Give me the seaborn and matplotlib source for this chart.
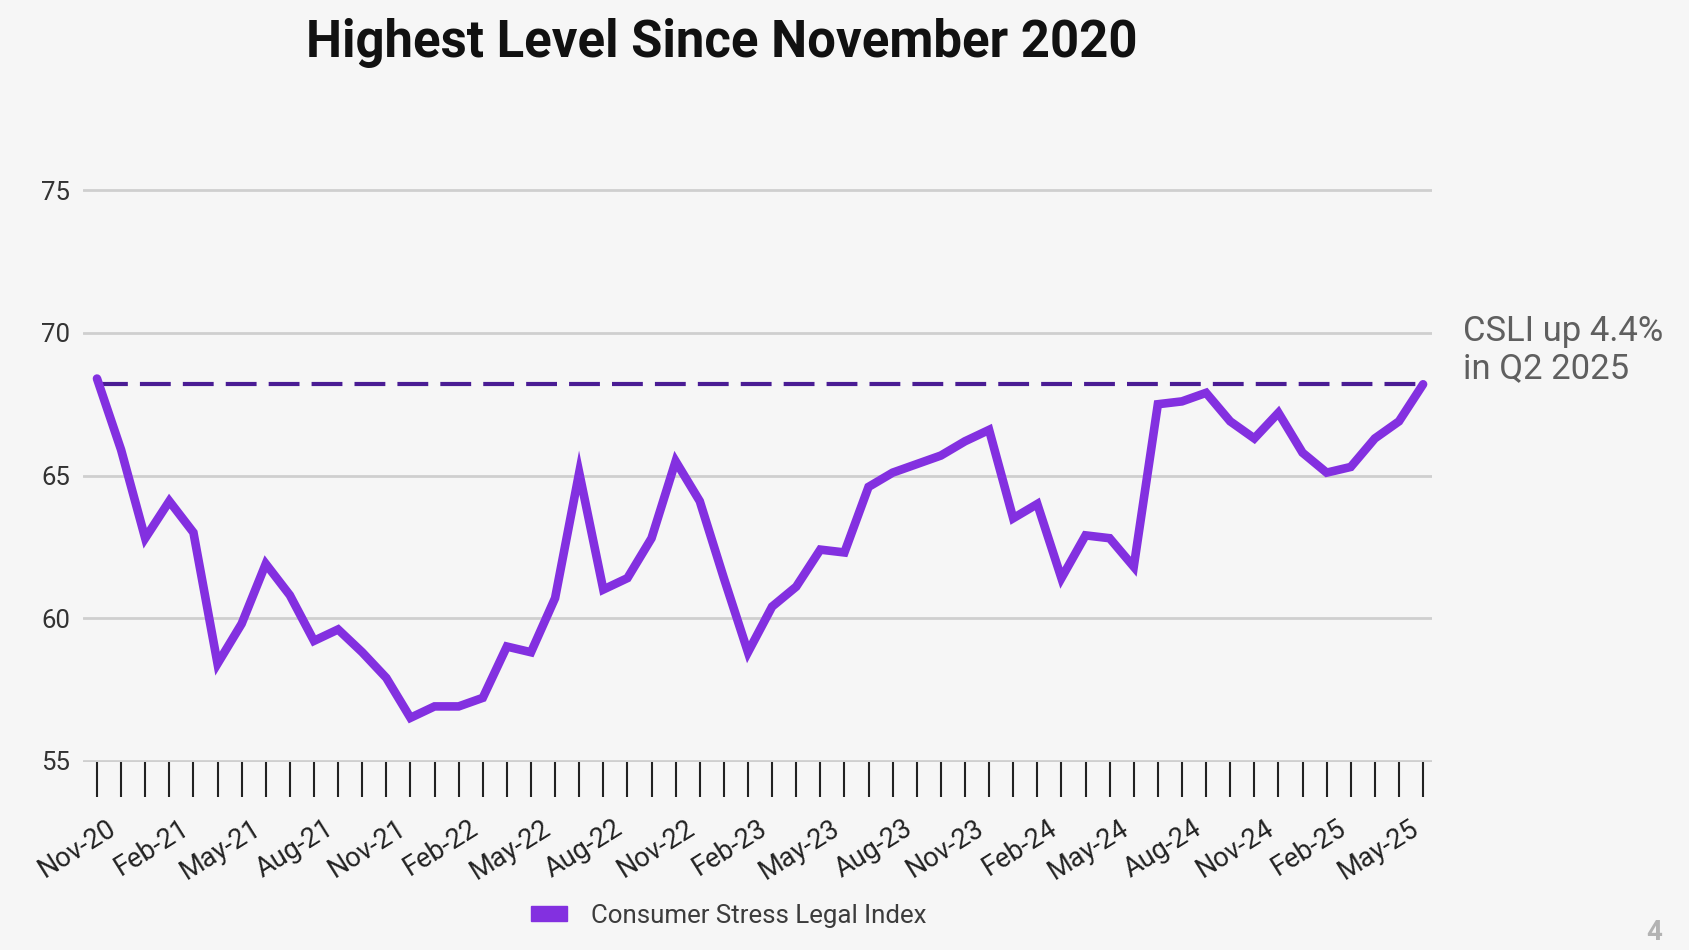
import matplotlib
matplotlib.use("Agg")
import matplotlib.pyplot as plt
from matplotlib.patches import Patch
from matplotlib.transforms import ScaledTranslation
import numpy as np
import pandas as pd
import seaborn as sns

# données (indice mensuel, nov. 2020 -> juin 2025)
start_month = "2020-11-01"
csli_values = [68.4, 65.9, 62.8, 64.1, 63.0, 58.4, 59.8, 61.9, 60.8, 59.2,
               59.6, 58.8, 57.9, 56.5, 56.9, 56.9, 57.2, 59.0, 58.8, 60.7,
               65.1, 61.0, 61.4, 62.8, 65.5, 64.1, 61.4, 58.8, 60.4, 61.1,
               62.4, 62.3, 64.6, 65.1, 65.4, 65.7, 66.2, 66.6, 63.5, 64.0,
               61.4, 62.9, 62.8, 61.8, 67.5, 67.6, 67.9, 66.9, 66.3, 67.2,
               65.8, 65.1, 65.3, 66.3, 66.9, 68.2]
y_ticks = [55, 60, 65, 70, 75]
label_every = 3
series_name = "Consumer Stress Legal Index"
title = "Highest Level Since November 2020"
note = "CSLI up 4.4%\nin Q2 2025"
page_num = "4"

months = pd.date_range(start_month, periods=len(csli_values), freq="MS")
df = pd.DataFrame({"idx": np.arange(len(csli_values)), "value": csli_values,
                   "month": months.strftime("%b-%y")})

bg = "#f6f6f6"
purple = "#8330e0"
dark_purple = "#4a1c94"

sns.set_theme(style="white")
plt.rcParams["font.family"] = ["Roboto", "DejaVu Sans"]

fig = plt.figure(figsize=(16.9, 9.5), dpi=100, facecolor=bg)
ax = fig.add_axes([83/1690, 1-762/950, (1432-83)/1690, (762-189)/950])
ax.set_facecolor(bg)

sns.lineplot(data=df, x="idx", y="value", ax=ax, color=purple, lw=6.2,
             legend=False, solid_joinstyle="miter", zorder=3)

# ligne pointillée au niveau de la dernière valeur
ax.plot([df.idx.iloc[0], df.idx.iloc[-1]], [csli_values[-1]]*2,
        color=dark_purple, lw=3, dashes=(7.4, 2.9), zorder=2)

ax.set_xlim(-0.58, len(csli_values) - 1 + 0.37)
ax.set_ylim(54.95, 75.05)
ax.set_yticks(y_ticks)
ax.set_yticklabels([str(t) for t in y_ticks])
ax.yaxis.grid(True, color="#cfcfcf", lw=2)
ax.xaxis.grid(False)
for s in ax.spines.values():
    s.set_visible(False)

ax.set_xticks(df.idx)
ax.set_xticklabels([m if i % label_every == 0 else "" for i, m in enumerate(df.month)])
ax.tick_params(axis="x", length=25, width=1.5, color="#222222", pad=13,
               labelsize=19.5, labelcolor="#222222", bottom=True)
ax.tick_params(axis="y", length=0, pad=9, labelsize=18.5, labelcolor="#333333")
offset = ScaledTranslation(10/100, 0, fig.dpi_scale_trans)
for lbl in ax.get_xticklabels():
    lbl.set_rotation(32)
    lbl.set_ha("right")
    lbl.set_va("top")
    lbl.set_rotation_mode("anchor")
    lbl.set_transform(lbl.get_transform() + offset)
ax.set_xlabel("")
ax.set_ylabel("")

fig.text(306/1690, 1-57/950, title, fontsize=36.6, fontweight="bold",
         color="#111111", ha="left", va="baseline")
fig.text(1463/1690, 1-350/950, note, fontsize=24.9, color="#5f5f5f",
         ha="left", va="center", linespacing=1.15)
fig.text(1654/1690, 1-932/950, page_num, fontsize=20, fontweight="bold",
         color="#b3b3b3", ha="center", va="center")

fig.legend(handles=[Patch(facecolor=purple, edgecolor=purple)], labels=[series_name],
           loc="center", bbox_to_anchor=(729/1690, 1-916/950), frameon=False,
           fontsize=18.6, handlelength=1.4, handleheight=0.5, handletextpad=0.93,
           borderpad=0, borderaxespad=0, labelcolor="#3c3c3c")

fig.savefig("out.png", dpi=100, facecolor=bg)
